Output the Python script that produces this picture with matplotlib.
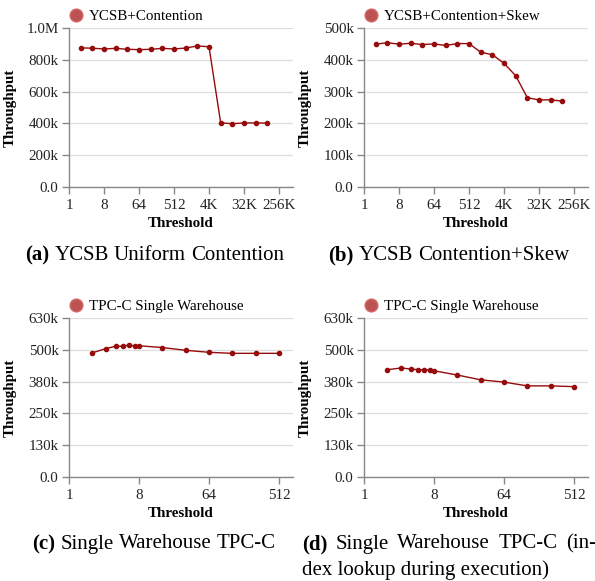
import matplotlib.pyplot as plt
from matplotlib.ticker import FixedLocator, FixedFormatter

plt.rcParams["font.family"] = ["Liberation Serif", "DejaVu Serif"]

# ---- data ----
ycsb_threshold = [2, 4, 8, 16, 32, 64, 128, 256, 512, 1024, 2048, 4096,
                  8192, 16384, 32768, 65536, 131072]
ycsb_contention = [875e3, 873e3, 868e3, 872e3, 866e3, 864e3, 866e3, 872e3,
                   868e3, 874e3, 887e3, 882e3, 404e3, 398e3, 403e3, 403e3, 402e3]
ycsb_skew = [449e3, 454e3, 449e3, 452e3, 448e3, 450e3, 445e3, 451e3, 451e3,
             424e3, 416e3, 389e3, 350e3, 281e3, 274e3, 274e3, 270e3]

tpcc_threshold = [2, 3, 4, 5, 6, 7, 8, 16, 32, 64, 128, 256, 512]
tpcc_single = [492e3, 509e3, 518e3, 518e3, 524e3, 518e3, 520e3, 513e3,
               502e3, 494e3, 490e3, 490e3, 490e3]
tpcc_lookup = [425e3, 432e3, 428e3, 425e3, 425e3, 425e3, 421e3, 404e3,
               385e3, 376e3, 361e3, 361e3, 358e3]

ycsb_xticks = [1, 8, 64, 512, 4096, 32768, 262144]
ycsb_xlabels = ["1", "8", "64", "512", "4K", "32K", "256K"]
tpcc_xticks = [1, 8, 64, 512]
tpcc_xlabels = ["1", "8", "64", "512"]

yticks_a = [0, 200e3, 400e3, 600e3, 800e3, 1e6]
ylabels_a = ["0.0", "200k", "400k", "600k", "800k", "1.0M"]
yticks_b = [0, 100e3, 200e3, 300e3, 400e3, 500e3]
ylabels_b = ["0.0", "100k", "200k", "300k", "400k", "500k"]
yticks_cd = [0, 126e3, 252e3, 378e3, 504e3, 630e3]
ylabels_cd = ["0.0", "130k", "250k", "380k", "500k", "630k"]

panels = [
    dict(x=ycsb_threshold, y=ycsb_contention, name="YCSB+Contention",
         xt=ycsb_xticks, xl=ycsb_xlabels, xmax=2 ** 19.2,
         yt=yticks_a, yl=ylabels_a, pos=(69, 28)),
    dict(x=ycsb_threshold, y=ycsb_skew, name="YCSB+Contention+Skew",
         xt=ycsb_xticks, xl=ycsb_xlabels, xmax=2 ** 19.2,
         yt=yticks_b, yl=ylabels_b, pos=(364, 28)),
    dict(x=tpcc_threshold, y=tpcc_single, name="TPC-C Single Warehouse",
         xt=tpcc_xticks, xl=tpcc_xlabels, xmax=2 ** 9.6,
         yt=yticks_cd, yl=ylabels_cd, pos=(69, 318)),
    dict(x=tpcc_threshold, y=tpcc_lookup, name="TPC-C Single Warehouse",
         xt=tpcc_xticks, xl=tpcc_xlabels, xmax=2 ** 9.6,
         yt=yticks_cd, yl=ylabels_cd, pos=(364, 318)),
]

W, H = 595, 581
fig = plt.figure(figsize=(W / 100, H / 100), dpi=100)

line_color = "#960b0b"
axis_color = "#888888"

for p in panels:
    left, top = p["pos"]
    ax = fig.add_axes([left / W, (H - top - 159) / H, 224 / W, 159 / H])
    ax.plot(p["x"], p["y"], color=line_color, lw=1.0, marker="o", ms=3.0,
            mec=line_color, mfc=line_color, zorder=3, label="_nolegend_")
    # legend entry
    ax.plot([], [], ls="none", marker="o", ms=9, mfc="#b5403f", mec="#d06060",
            mew=1.2, alpha=0.9, label=p["name"])
    ax.legend(loc="lower left", bbox_to_anchor=(-0.015, 1.012), frameon=False,
              fontsize=10.8, handletextpad=0.35, borderaxespad=0,
              handlelength=1.0, borderpad=0.2)

    ax.set_xscale("log", base=2)
    ax.set_xlim(1, p["xmax"])
    ax.xaxis.set_major_locator(FixedLocator(p["xt"]))
    ax.xaxis.set_major_formatter(FixedFormatter(p["xl"]))
    ax.xaxis.set_minor_locator(FixedLocator([]))
    ax.set_ylim(0, p["yt"][-1])
    ax.set_yticks(p["yt"])
    ax.set_yticklabels(p["yl"])

    ax.grid(axis="y", color="#dddddd", lw=0.9)
    ax.set_axisbelow(True)
    for s in ["top", "right"]:
        ax.spines[s].set_visible(False)
    for s in ["left", "bottom"]:
        ax.spines[s].set_color(axis_color)
        ax.spines[s].set_linewidth(1.0)
    ax.tick_params(colors=axis_color, labelcolor="#222222", labelsize=10.8,
                   length=5, width=1.0, pad=2.5)
    ax.tick_params(axis="x", pad=3.5)

    ax.set_xlabel("Threshold", fontsize=10.8, fontweight="bold", labelpad=4)
    ax.set_ylabel("Throughput", fontsize=10.8, fontweight="bold")
    ax.yaxis.set_label_coords(-0.232, 0.5)

CAP_FS = 15


def caption(tag, words, x, y, right=None):
    # bold tag, then the words; justified up to `right` if given
    t = fig.text(x / W, 1 - y / H, tag, fontsize=CAP_FS, fontweight="bold",
                 va="center", ha="left")
    fig.canvas.draw()
    r = fig.canvas.get_renderer()
    cur = t.get_window_extent(r).x1
    space = 0.25 * CAP_FS * 100 / 72
    pieces = []
    for w in words:
        tt = fig.text(0, 1 - y / H, w, fontsize=CAP_FS, va="center", ha="left")
        pieces.append((tt, tt.get_window_extent(r).width))
    if right is not None:
        total = sum(wd for _, wd in pieces)
        space = (right - cur - total) / len(pieces)
    for tt, wd in pieces:
        cur += space
        tt.set_x(cur / W)
        cur += wd


caption("(a)", ["YCSB", "Uniform", "Contention"], 25, 255)
caption("(b)", ["YCSB", "Contention+Skew"], 328, 255)
caption("(c)", ["Single", "Warehouse", "TPC-C"], 32, 544)
caption("(d)", ["Single", "Warehouse", "TPC-C", "(in-"], 302, 544, right=596)
fig.text(302 / W, 1 - 570 / H, "dex lookup during execution)",
         fontsize=CAP_FS, va="center", ha="left")

fig.savefig("out.png", dpi=100)
